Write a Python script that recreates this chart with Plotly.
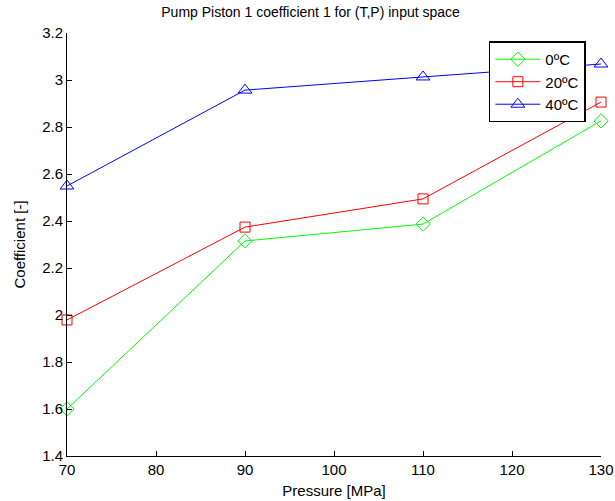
import plotly.graph_objects as go

pressure = [70, 90, 110, 130]
coef_0c = [1.60, 2.315, 2.387, 2.826]
coef_20c = [1.979, 2.374, 2.494, 2.906]
coef_40c = [2.549, 2.957, 3.013, 3.068]

series_names = ["0ºC", "20ºC", "40ºC"]
series_values = [coef_0c, coef_20c, coef_40c]
series_colors = ["#00ff00", "#ff0000", "#0000ff"]
series_symbols = ["diamond-open", "square-open", "triangle-up-open"]
series_sizes = [11, 10, 12]

x_ticks = [70, 80, 90, 100, 110, 120, 130]
y_ticks = [1.4, 1.6, 1.8, 2.0, 2.2, 2.4, 2.6, 2.8, 3.0, 3.2]
y_tick_text = ["1.4", "1.6", "1.8", "2", "2.2", "2.4", "2.6", "2.8", "3", "3.2"]

fig = go.Figure()
for name, vals, col, sym, sz in zip(series_names, series_values, series_colors,
                                    series_symbols, series_sizes):
    fig.add_trace(go.Scatter(
        x=pressure, y=vals, name=name, mode="lines+markers",
        line=dict(color=col, width=1),
        marker=dict(symbol=sym, size=sz, color=col, line=dict(width=1, color=col)),
        cliponaxis=False,
    ))

axis_common = dict(
    showline=True, linecolor="#000000", linewidth=1,
    ticks="inside", ticklen=5, tickcolor="#000000",
    showgrid=False, zeroline=False, mirror=False, automargin=False,
    tickfont=dict(family="Liberation Sans, Arial, sans-serif", size=15, color="#000000"),
)

fig.update_layout(
    width=615, height=501,
    margin=dict(l=67, r=14, t=33, b=45),
    paper_bgcolor="white", plot_bgcolor="white",
    font=dict(family="Liberation Sans, Arial, sans-serif", color="#000000"),
    title=dict(text="Pump Piston 1 coefficient 1 for (T,P) input space",
               x=0.505, xanchor="center", y=0.975, yanchor="middle",
               font=dict(size=14)),
    xaxis=dict(range=[70, 130], tickvals=x_ticks,
               title=dict(text="Pressure [MPa]", font=dict(size=15), standoff=8),
               **axis_common),
    yaxis=dict(range=[1.4, 3.2], tickvals=y_ticks, ticktext=y_tick_text,
               title=dict(text="Coefficient [-]", font=dict(size=15), standoff=12),
               **axis_common),
    legend=dict(x=0.79, y=0.98, xanchor="left", yanchor="top",
                bgcolor="white", bordercolor="#000000", borderwidth=1.5,
                font=dict(size=15), itemwidth=45, tracegroupgap=0),
    showlegend=True,
)

fig.write_html("out.html")
